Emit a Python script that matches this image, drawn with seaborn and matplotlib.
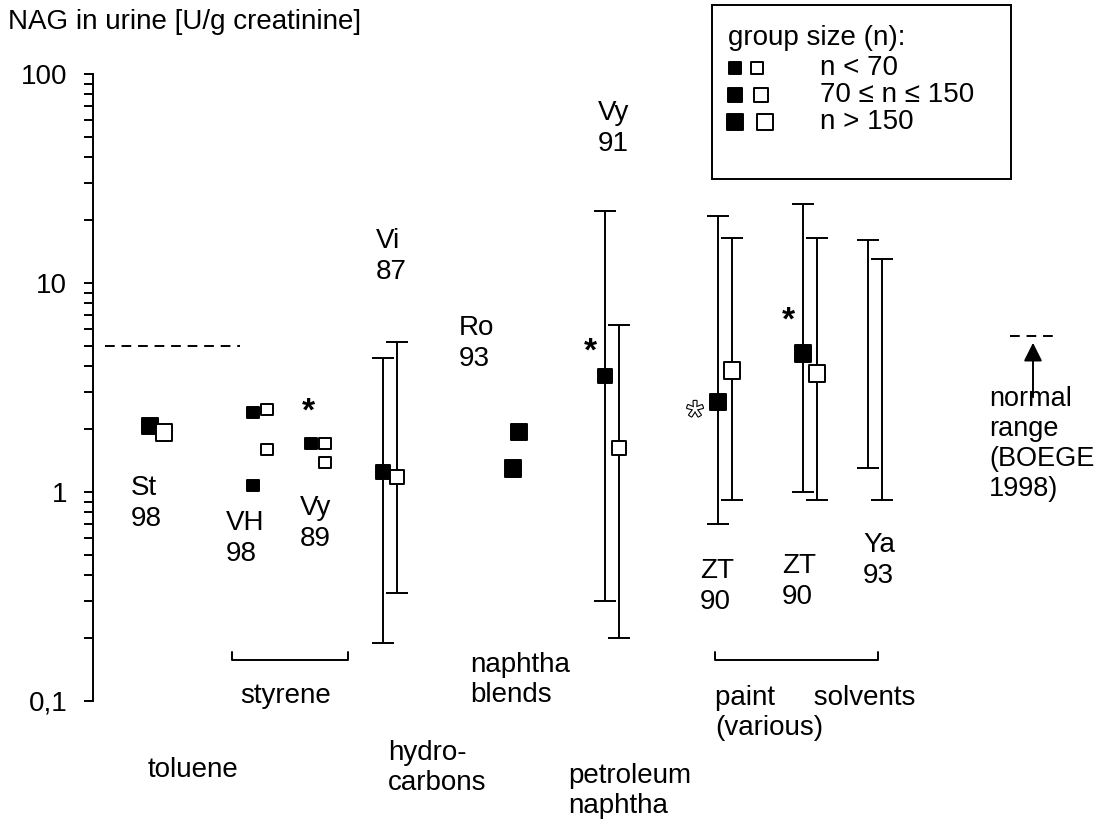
import matplotlib
matplotlib.use("Agg")
import matplotlib.pyplot as plt
import matplotlib.patheffects as pe
from matplotlib.patches import Rectangle
from matplotlib.ticker import FixedLocator, NullFormatter
import numpy as np
import pandas as pd
import seaborn as sns

# single group means (geometric), filled = exposed, open = controls
pt_x = [150, 164, 253, 267, 267, 253, 311, 325, 325, 383, 397, 519, 513, 605, 619, 718, 732, 803, 817]
pt_value = [2.07, 1.92, 2.41, 2.47, 1.59, 1.07, 1.70, 1.70, 1.39, 1.25, 1.18, 1.94, 1.30,
            3.6, 1.63, 2.7, 3.8, 4.6, 3.7]
pt_kind = ["filled", "open", "filled", "open", "open", "filled", "filled", "open", "open",
           "filled", "open", "filled", "filled", "filled", "open", "filled", "open", "filled", "open"]
pt_size = ["large", "large", "small", "small", "small", "small", "small", "small", "small",
           "medium", "medium", "large", "large", "medium", "medium", "large", "large", "large", "large"]

# ranges
wh_x = [383, 397, 605, 619, 718, 732, 803, 817, 868, 882]
wh_low = [0.19, 0.33, 0.30, 0.20, 0.70, 0.92, 1.0, 0.92, 1.3, 0.92]
wh_high = [4.4, 5.2, 22, 6.3, 21, 16.5, 24, 16.5, 16, 13]

# study labels (author, year)
study_labels = ["St\n98", "VH\n98", "Vy\n89", "Vi\n87", "Ro\n93", "Vy\n91", "ZT\n90", "ZT\n90", "Ya\n93"]
study_pos = [(131, 475), (226, 510), (300, 495), (376, 228), (459, 315), (598, 100),
             (700, 558), (782, 553), (863, 532)]

group_labels = ["toluene", "styrene", "naphtha\nblends", "hydro-\ncarbons", "petroleum\nnaphtha",
                "paint     solvents\n(various)"]
group_pos = [(148, 757), (240, 683), (470, 652), (388, 740), (568, 763), (715, 685)]

legend_labels = ["n < 70", "70 \u2264 n \u2264 150", "n > 150"]
size_classes = ["small", "medium", "large"]
marker_area = {"small": 64, "medium": 100, "large": 144}

yticks = [0.1, 1, 10, 100]
ytick_labels = ["0,1", "1", "10", "100"]

W, H = 1095, 827


def yv(row):
    # pixel row -> value on the log axis
    return 10 ** (2 - (row - 74) / 209)


sns.set_theme(style="white")
plt.rcParams["font.family"] = ["Liberation Sans", "DejaVu Sans"]
plt.rcParams["text.color"] = "black"
plt.rcParams["ytick.labelcolor"] = "black"

fig = plt.figure(figsize=(W / 100, H / 100), dpi=100)
ax = fig.add_axes([0, 0, 1, 1])
ax.set_yscale("log")
ax.set_xlim(0, W)
ax.set_ylim(yv(H), yv(0))

# axis
for s in ["top", "right", "bottom"]:
    ax.spines[s].set_visible(False)
ax.spines["left"].set_position(("data", 93))
ax.spines["left"].set_bounds(0.1, 100)
ax.spines["left"].set_color("black")
ax.spines["left"].set_linewidth(1.4)
ax.xaxis.set_visible(False)
ax.set_yticks(yticks)
ax.set_yticklabels(ytick_labels)
minor = [k * 10.0 ** e for e in (-1, 0, 1) for k in range(2, 10)]
ax.yaxis.set_minor_locator(FixedLocator(minor))
ax.yaxis.set_minor_formatter(NullFormatter())
ax.tick_params(axis="y", which="both", direction="out", length=6.5, width=1.4,
               color="black", labelcolor="black", labelsize=20, pad=12, left=True)

ax.text(8 / W, 1 - 22 / H, "NAG in urine [U/g creatinine]", transform=ax.transAxes,
        fontsize=20, va="center", ha="left")

# ranges
wh_low = np.array(wh_low)
wh_high = np.array(wh_high)
ax.errorbar(wh_x, wh_low, yerr=[np.zeros_like(wh_low), wh_high - wh_low], fmt="none",
            ecolor="black", elinewidth=1.4, capsize=8, capthick=1.4, zorder=2)

df = pd.DataFrame({"x": pt_x, "value": pt_value, "kind": pt_kind, "size": pt_size})
sns.scatterplot(data=df, x="x", y="value", hue="kind", size="size", sizes=marker_area,
                palette={"filled": "black", "open": "white"}, marker="s",
                edgecolor="black", linewidth=1.4, legend=False, ax=ax, zorder=3)
ax.set_xlabel("")
ax.set_ylabel("")

# reference lines
ax.plot([105, 240], [5, 5], color="black", lw=1.4, dashes=[5, 3.5])
ax.plot([1010, 1058], [5.55, 5.55], color="black", lw=1.4, dashes=[5, 3.5])
ax.annotate("", xy=(1033, yv(340)), xytext=(1033, yv(400)),
            arrowprops=dict(arrowstyle="-|>", lw=1.4, color="black", mutation_scale=28))
ax.text(989, yv(386), "normal\nrange\n(BOEGE\n1998)", fontsize=19.5, va="top", ha="left",
        linespacing=1.2)

# asterisks
for x, row in [(308, 412), (590, 352), (788, 321)]:
    ax.text(x, yv(row), "*", fontsize=24, fontweight="bold", ha="center", va="center")
ax.text(695, yv(420), "*", fontsize=32, ha="center", va="center", color="white",
        path_effects=[pe.withStroke(linewidth=1.6, foreground="black")])

# labels
for lab, (x, row) in zip(study_labels, study_pos):
    ax.text(x, yv(row), lab, fontsize=20, va="top", ha="left", linespacing=1.25)
for lab, (x, row) in zip(group_labels, group_pos):
    ax.text(x, yv(row), lab, fontsize=20, va="top", ha="left", linespacing=1.2)

# brackets
for x0, x1 in [(232, 348), (715, 878)]:
    ax.plot([x0, x0, x1, x1], [yv(652), yv(660), yv(660), yv(652)], color="black", lw=1.4)

# group size key
ax.add_patch(Rectangle((712 / W, 1 - 179 / H), 299 / W, 174 / H, transform=ax.transAxes,
                       fill=False, edgecolor="black", lw=1.4))
ax.text(728 / W, 1 - 38 / H, "group size (n):", transform=ax.transAxes, fontsize=20,
        va="center", ha="left")
for i, (lab, sc) in enumerate(zip(legend_labels, size_classes)):
    row = 68 + 27 * i
    gap = 22 + 4 * i
    ax.scatter([735], [yv(row)], s=marker_area[sc], marker="s", color="black",
               edgecolor="black", lw=1.4)
    ax.scatter([735 + gap], [yv(row)], s=marker_area[sc], marker="s", color="white",
               edgecolor="black", lw=1.4)
    ax.text(820, yv(row), lab, fontsize=20, va="center", ha="left")

fig.savefig("out.png", dpi=100)
